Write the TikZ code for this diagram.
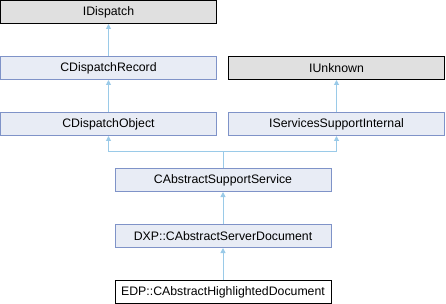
\documentclass[tikz,border=0pt]{standalone}
\usepackage{fontspec}
\setmainfont{Liberation Sans}
\usetikzlibrary{arrows.meta}
\definecolor{boxfill}{HTML}{E8ECF5}
\definecolor{boxline}{HTML}{7F93C8}
\definecolor{grayfill}{HTML}{E0E0E0}
\definecolor{edgecol}{HTML}{9ACAE8}
\begin{document}
\begin{tikzpicture}[x=1pt,y=-1pt,
  cls/.style={draw=boxline,fill=boxfill,line width=1pt,minimum width=216pt,minimum height=23pt,inner sep=0pt,font=\fontsize{12.3}{14}\selectfont},
  ext/.style={cls,draw=black,fill=grayfill},
  cur/.style={cls,draw=black,fill=white},
  inh/.style={draw=edgecol,line width=1pt,-{Triangle[width=5pt,length=5pt]}}]
\useasboundingbox (0,0) rectangle (446,304);
\node[ext] (idisp) at (108.5,12) {IDispatch};
\node[cls] (crec) at (108.5,68) {CDispatchRecord};
\node[cls] (cobj) at (108.5,124) {CDispatchObject};
\node[ext] (iunk) at (336.5,68) {IUnknown};
\node[cls] (issi) at (336.5,124) {IServicesSupportInternal};
\node[cls] (cass) at (223,180) {CAbstractSupportService};
\node[cls] (dxp) at (223,236) {DXP::CAbstractServerDocument};
\node[cur] (edp) at (223,292) {EDP::CAbstractHighlightedDocument};
\coordinate (j) at (223,152);
\draw[inh] (crec) -- (idisp);
\draw[inh] (cobj) -- (crec);
\draw[inh] (issi) -- (iunk);
\draw[inh] (cass.north) -- (j) -| (cobj.south);
\draw[inh] (j) -| (issi.south);
\draw[inh] (dxp) -- (cass);
\draw[inh] (edp) -- (dxp);
\end{tikzpicture}
\end{document}
